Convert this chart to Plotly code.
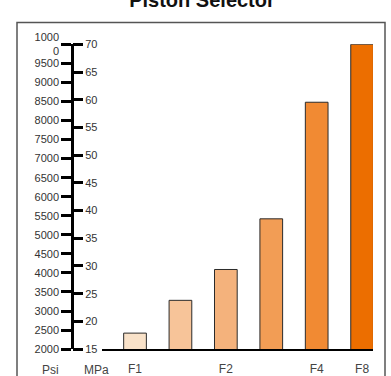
import plotly.graph_objects as go

# Data
bar_positions = [0, 1, 2, 3, 4, 5]
psi_values = [2420, 3280, 4090, 5420, 8480, 10000]
bar_colors = ["#f9e2c9", "#f7c499", "#f4b27c", "#f29d55", "#f18a33", "#ec6e00"]
x_tick_pos = [0, 2, 4, 5]
x_tick_text = ["F1", "F2", "F4", "F8"]
psi_ticks = list(range(2000, 10001, 500))
psi_tick_text = [str(v) if v < 10000 else "1000<br>0" for v in psi_ticks]
mpa_ticks = list(range(15, 71, 5))
mpa_tick_text = [str(v) for v in mpa_ticks]

W, H = 391, 376
def px(x):
    return x / W
def py(y):
    return 1 - y / H

fig = go.Figure()
fig.add_trace(go.Bar(
    x=bar_positions, y=psi_values, width=0.5,
    marker=dict(color=bar_colors, line=dict(color="#2b2b2b", width=1)),
    base=0, yaxis="y", showlegend=False, hoverinfo="skip",
))
# invisible trace to activate MPa axis
fig.add_trace(go.Scatter(x=[0], y=[15], yaxis="y2", mode="markers",
                         marker=dict(opacity=0), showlegend=False, hoverinfo="skip"))

ydom = [py(354), py(33)]
fig.update_layout(
    width=W, height=H,
    margin=dict(l=0, r=0, t=0, b=0),
    paper_bgcolor="white", plot_bgcolor="white",
    font=dict(family="Liberation Sans, Arial, sans-serif", color="#333"),
    title=dict(text="<b>Piston Selector</b>", x=px(202), xanchor="center",
               y=py(7), yanchor="bottom", font=dict(size=20, color="#111")),
    xaxis=dict(domain=[px(102), px(373)], range=[-0.727, 5.24],
               tickvals=x_tick_pos, ticktext=x_tick_text, showgrid=False,
               zeroline=False, showline=True, linecolor="black", linewidth=2,
               ticks="", tickfont=dict(size=12, color="#444"), ticklabelstandoff=7,
               anchor="y"),
    yaxis=dict(domain=ydom, range=[2000, 10000], anchor="free", position=px(72),
               side="left", tickvals=psi_ticks, ticktext=psi_tick_text,
               showgrid=False, zeroline=False, showline=True, linecolor="black",
               linewidth=2.5, ticks="outside", ticklen=10, tickwidth=2.5,
               tickcolor="black", tickfont=dict(size=11, color="#333")),
    yaxis2=dict(domain=ydom, range=[15, 70], anchor="free", position=px(72),
                side="right", overlaying="y", tickvals=mpa_ticks,
                ticktext=mpa_tick_text, showgrid=False, zeroline=False,
                showline=False, ticks="outside", ticklen=10, tickwidth=2.5,
                tickcolor="black", tickfont=dict(size=11, color="#333")),
    bargap=0.5,
)

fig.add_annotation(text="Psi", x=px(50), y=py(376), xref="paper", yref="paper",
                   xanchor="center", yanchor="middle",
                   showarrow=False, font=dict(size=12, color="#444"))
fig.add_annotation(text="MPa", x=px(96), y=py(376), xref="paper", yref="paper",
                   xanchor="center", yanchor="middle",
                   showarrow=False, font=dict(size=12, color="#444"))
fig.add_shape(type="rect", xref="paper", yref="paper",
              x0=px(17), x1=px(385), y0=-0.05, y1=py(10),
              line=dict(color="#555", width=1.5), fillcolor="rgba(0,0,0,0)",
              layer="below")

fig.write_html("out.html", config={"displayModeBar": False},
               post_script="document.body.style.margin='0';document.body.style.overflow='hidden';")
